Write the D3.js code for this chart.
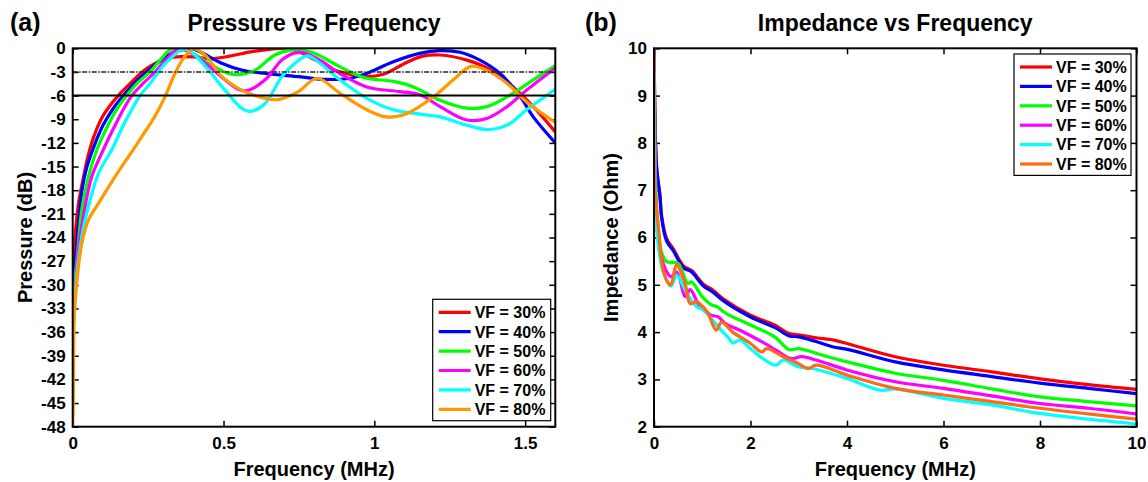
<!DOCTYPE html>
<html>
<head>
<meta charset="utf-8">
<script src="https://cdnjs.cloudflare.com/ajax/libs/d3/7.8.5/d3.min.js"></script>
<style>
body { margin: 0; background: #fff; }
svg text { font-family: "Liberation Sans", Arial, sans-serif; font-weight: bold; fill: #000; }
</style>
</head>
<body>
<svg id="chart" width="1148" height="482"></svg>
<script>
'use strict';
/* global d3 */

var seriesLabels = ['VF = 30%', 'VF = 40%', 'VF = 50%', 'VF = 60%', 'VF = 70%', 'VF = 80%'];
var pressureColors = ['#ff0000', '#0000ff', '#00ff00', '#ff00ff', '#00ffff', '#ff9900'];
var impedanceColors = ['#ff0000', '#0000ff', '#00ff00', '#ff00ff', '#00ffff', '#ff6a13'];

var pressureTicksY = [0, -3, -6, -9, -12, -15, -18, -21, -24, -27, -30, -33, -36, -39, -42, -45, -48];
var pressureTicksX = [0, 0.5, 1, 1.5];
var impedanceTicksY = [2, 3, 4, 5, 6, 7, 8, 9, 10];
var impedanceTicksX = [0, 2, 4, 6, 8, 10];
var pressureRefLines = [-3, -6];

// pressure (dB) vs frequency (MHz)
var pressure30 = [[0, -30], [0.005, -26], [0.01, -23], [0.02, -19.5], [0.035, -16.5], [0.05, -13.8], [0.07, -11.2],
    [0.1, -8.6], [0.125, -7.2], [0.151, -6], [0.2, -4.1], [0.23, -3], [0.26, -2.2], [0.295, -1.5], [0.33, -1.15],
    [0.36, -1.05], [0.4, -1.1], [0.46, -1.3], [0.52, -1.0], [0.59, -0.45], [0.66, -0.1], [0.72, 0], [0.754, -0.5],
    [0.81, -1.6], [0.864, -2.7], [0.92, -3.3], [0.975, -3.6], [1.03, -3.3], [1.107, -1.8], [1.16, -1.0],
    [1.218, -0.85], [1.307, -1.5], [1.373, -2.5], [1.46, -4.9], [1.527, -7.4], [1.6, -10.6]];
var pressure40 = [[0, -32], [0.005, -29], [0.01, -26.5], [0.021, -21.4], [0.033, -17.5], [0.046, -15.2], [0.07, -12.5],
    [0.1, -9.8], [0.135, -7.6], [0.168, -6], [0.2, -4.6], [0.245, -3], [0.29, -1.6], [0.33, -0.6], [0.37, -0.1],
    [0.395, 0], [0.43, -0.6], [0.494, -1.9], [0.56, -2.76], [0.64, -3.2], [0.75, -3.6], [0.842, -3.95], [0.92, -3.8],
    [0.974, -3.2], [1.063, -1.7], [1.15, -0.64], [1.218, -0.3], [1.284, -0.5], [1.35, -1.5], [1.417, -3.2],
    [1.483, -6.1], [1.527, -8.7], [1.6, -12]];
var pressure50 = [[0, -33], [0.005, -30.5], [0.017, -25.6], [0.03, -20.5], [0.052, -16.3], [0.08, -12.9], [0.11, -10.3],
    [0.145, -7.8], [0.179, -6], [0.215, -4.4], [0.256, -3], [0.29, -1.5], [0.328, -0.1], [0.37, -0.2], [0.41, -0.9],
    [0.45, -1.9], [0.516, -3.2], [0.549, -3.35], [0.604, -2.8], [0.67, -0.85], [0.726, -0.2], [0.754, -0.2],
    [0.8, -0.6], [0.864, -1.9], [0.92, -3], [0.975, -3.8], [1.063, -4.2], [1.13, -4.9], [1.218, -6.6], [1.307, -7.6],
    [1.373, -7.4], [1.46, -5.7], [1.527, -4], [1.6, -2.2]];
var pressure60 = [[0, -34], [0.008, -30.7], [0.019, -25.6], [0.035, -21.4], [0.063, -16.3], [0.101, -12.9], [0.14, -9.8],
    [0.17, -7.6], [0.196, -6], [0.235, -4.4], [0.273, -3], [0.31, -1.4], [0.35, -0.1], [0.38, -0.3], [0.44, -1.9],
    [0.505, -4], [0.549, -5.2], [0.575, -5.4], [0.638, -4], [0.693, -1.5], [0.74, -0.55], [0.77, -0.6], [0.82, -1.5],
    [0.886, -3.2], [0.975, -4.9], [1.085, -5.5], [1.152, -5.9], [1.218, -7.4], [1.307, -9.1], [1.373, -8.9],
    [1.44, -7.4], [1.505, -5.3], [1.6, -2.5]];
var pressure70 = [[0, -36], [0.005, -34], [0.013, -29], [0.03, -23.9], [0.052, -20.1], [0.085, -15.9], [0.129, -12.9],
    [0.17, -9.6], [0.2, -7.5], [0.223, -6], [0.26, -4.3], [0.3, -2.2], [0.335, -0.9], [0.365, -0.1], [0.39, -0.4],
    [0.44, -2.3], [0.505, -5.3], [0.56, -7.6], [0.588, -8], [0.638, -7], [0.693, -3.6], [0.737, -1.9], [0.778, -0.95],
    [0.82, -1.9], [0.886, -4], [0.975, -6.35], [1.063, -7.8], [1.152, -8.35], [1.218, -8.7], [1.307, -9.75],
    [1.373, -10.3], [1.44, -9.75], [1.505, -7.8], [1.6, -5.2]];
var pressure80 = [[0, -48], [0.002, -45], [0.005, -34.1], [0.013, -29.9], [0.03, -24.8], [0.052, -21.8], [0.085, -19.7],
    [0.14, -16.3], [0.2, -12.9], [0.229, -11.2], [0.27, -8.8], [0.306, -6.15], [0.339, -3.2], [0.365, -1.4], [0.4, -0.05],
    [0.44, -0.9], [0.495, -3.6], [0.56, -5.3], [0.638, -6.35], [0.682, -6.5], [0.748, -5.5], [0.81, -3.8], [0.886, -5.7],
    [0.975, -7.8], [1.04, -8.7], [1.107, -8.3], [1.196, -6.15], [1.262, -4], [1.32, -2.3], [1.373, -2.8], [1.44, -4.45],
    [1.505, -6.8], [1.6, -9.4]];

// impedance (Ohm) vs frequency (MHz)
var impedance30 = [[0, 10.2], [0.02, 8.6], [0.055, 7.5], [0.124, 6.9], [0.16, 6.45], [0.26, 5.98], [0.4, 5.76], [0.61, 5.4],
    [0.78, 5.3], [1.02, 5.02], [1.23, 4.88], [1.44, 4.7], [2, 4.36], [2.5, 4.15], [2.8, 3.97], [3, 3.94], [3.36, 3.88],
    [3.73, 3.83], [4.03, 3.75], [5, 3.48], [6, 3.3], [7, 3.16], [8, 3.01], [9, 2.89], [10, 2.79]];
var impedance40 = [[0, 10.2], [0.02, 8.5], [0.055, 7.45], [0.124, 6.85], [0.16, 6.4], [0.26, 5.93], [0.4, 5.72], [0.61, 5.36],
    [0.78, 5.27], [1.02, 4.98], [1.23, 4.84], [1.44, 4.66], [2, 4.32], [2.5, 4.1], [2.8, 3.92], [3, 3.9], [3.36, 3.8],
    [3.7, 3.69], [4.03, 3.63], [5, 3.37], [6, 3.2], [7, 3.06], [8, 2.92], [9, 2.81], [10, 2.7]];
var impedance50 = [[0, 10], [0.02, 8], [0.055, 6.65], [0.16, 5.67], [0.26, 5.49], [0.5, 5.45], [0.7, 5.03], [0.78, 5.06],
    [1, 4.75], [1.2, 4.57], [1.3, 4.54], [1.5, 4.39], [2, 4.15], [2.5, 3.9], [2.8, 3.63], [3, 3.65], [3.5, 3.51],
    [4, 3.37], [5, 3.13], [6, 2.98], [7, 2.8], [8, 2.63], [9, 2.53], [10, 2.44]];
var impedance60 = [[0, 10], [0.02, 7.6], [0.055, 6.3], [0.15, 5.6], [0.25, 5.3], [0.35, 5.17], [0.47, 5.27], [0.65, 4.75],
    [0.75, 4.9], [0.95, 4.54], [1.18, 4.36], [1.33, 4.32], [1.48, 4.18], [1.78, 4.04], [2.23, 3.8], [2.53, 3.62],
    [2.83, 3.44], [3.06, 3.48], [3.36, 3.41], [4, 3.2], [5, 2.95], [6, 2.81], [7, 2.65], [8, 2.49], [9, 2.39], [10, 2.27]];
var impedance70 = [[0, 9.5], [0.02, 7.2], [0.055, 6.2], [0.12, 5.6], [0.2, 5.25], [0.35, 4.97], [0.47, 5.2], [0.65, 4.88],
    [0.88, 4.54], [1.03, 4.46], [1.33, 4.11], [1.55, 3.87], [1.63, 3.77], [1.78, 3.83], [2, 3.65], [2.3, 3.41],
    [2.53, 3.3], [2.68, 3.41], [2.98, 3.27], [3.28, 3.23], [4, 3.02], [4.7, 2.77], [5, 2.8], [6, 2.6], [7, 2.46],
    [8, 2.28], [9, 2.16], [10, 2.06]];
var impedance80 = [[0, 9.8], [0.02, 7], [0.09, 6.23], [0.19, 5.31], [0.3, 5.03], [0.35, 5], [0.47, 5.42], [0.65, 5],
    [0.75, 4.6], [0.88, 4.64], [1.1, 4.43], [1.29, 4.04], [1.4, 4.21], [1.63, 4], [2, 3.76], [2.23, 3.58], [2.34, 3.65],
    [2.68, 3.48], [2.98, 3.34], [3.2, 3.23], [3.36, 3.3], [4, 3.09], [5, 2.81], [6, 2.67], [7, 2.53], [8, 2.39],
    [9, 2.27], [10, 2.16]];

var svg = d3.select('#chart');
var plotTop = 48.3;
var plotBottom = 426.7;

function drawPanel(p) {
    var x = d3.scaleLinear().domain(p.xDomain).range([p.left, p.right]);
    var y = d3.scaleLinear().domain(p.yDomain).range([plotBottom, plotTop]);
    var g = svg.append('g');

    g.append('clipPath').attr('id', p.id + '-clip')
        .append('rect')
        .attr('x', p.left).attr('y', plotTop)
        .attr('width', p.right - p.left).attr('height', plotBottom - plotTop);

    var fmt = function(d) { return String(d); };
    var noLabel = function() { return ''; };

    g.append('g').attr('class', 'axis').attr('transform', 'translate(' + p.left + ',0)')
        .call(d3.axisLeft(y).tickValues(p.yTicks).tickFormat(fmt).tickSizeInner(-6).tickSizeOuter(0).tickPadding(7));
    g.append('g').attr('class', 'axis').attr('transform', 'translate(' + p.right + ',0)')
        .call(d3.axisRight(y).tickValues(p.yTicks).tickFormat(noLabel).tickSizeInner(-6).tickSizeOuter(0));
    g.append('g').attr('class', 'axis').attr('transform', 'translate(0,' + plotBottom + ')')
        .call(d3.axisBottom(x).tickValues(p.xTicks).tickFormat(fmt).tickSizeInner(-6).tickSizeOuter(0).tickPadding(10));
    g.append('g').attr('class', 'axis').attr('transform', 'translate(0,' + plotTop + ')')
        .call(d3.axisTop(x).tickValues(p.xTicks).tickFormat(noLabel).tickSizeInner(-6).tickSizeOuter(0));

    g.selectAll('.axis .domain').remove();
    g.selectAll('.axis line').attr('stroke', '#000').attr('stroke-width', 1.5);
    g.selectAll('.axis text').attr('font-size', 17).attr('font-family', null);

    var line = d3.line()
        .x(function(d) { return x(d[0]); })
        .y(function(d) { return y(d[1]); })
        .curve(d3.curveCatmullRom.alpha(0.5));

    g.append('g').attr('clip-path', 'url(#' + p.id + '-clip)')
        .selectAll('path')
        .data(p.series)
        .enter()
        .append('path')
            .attr('d', line)
            .attr('fill', 'none')
            .attr('stroke', function(d, i) { return p.colors[i]; })
            .attr('stroke-width', 3.2)
            .attr('stroke-linejoin', 'round');

    (p.refLines || []).forEach(function(v, i) {
        g.append('line')
            .attr('x1', p.left).attr('x2', p.right)
            .attr('y1', y(v)).attr('y2', y(v))
            .attr('stroke', i === 0 ? '#222' : '#000')
            .attr('stroke-width', i === 0 ? 1.6 : 2)
            .attr('stroke-dasharray', i === 0 ? '5,1.5,1.5,1.5' : null);
    });

    g.append('rect')
        .attr('x', p.left).attr('y', plotTop)
        .attr('width', p.right - p.left).attr('height', plotBottom - plotTop)
        .attr('fill', 'none').attr('stroke', '#000').attr('stroke-width', 2);

    // legend
    var lg = g.append('g');
    lg.append('rect')
        .attr('x', p.legend.x).attr('y', p.legend.y)
        .attr('width', p.legend.w).attr('height', p.legend.h)
        .attr('fill', '#fff').attr('stroke', '#000').attr('stroke-width', 1.2);
    seriesLabels.forEach(function(label, i) {
        var cy = p.legend.y + 13 + i * 19.4;
        lg.append('line')
            .attr('x1', p.legend.x + 6).attr('x2', p.legend.x + 38)
            .attr('y1', cy).attr('y2', cy)
            .attr('stroke', p.colors[i]).attr('stroke-width', 3.2);
        lg.append('text')
            .attr('x', p.legend.x + 42).attr('y', cy + 5.8)
            .attr('font-size', 16)
            .text(label);
    });

    // titles
    var cx = (p.left + p.right) / 2;
    g.append('text').attr('x', cx).attr('y', 31).attr('text-anchor', 'middle')
        .attr('font-size', 23).text(p.title);
    g.append('text').attr('x', p.panelX).attr('y', 31).attr('font-size', 25).text(p.panel);
    g.append('text').attr('x', cx).attr('y', 476).attr('text-anchor', 'middle')
        .attr('font-size', 20).text('Frequency (MHz)');
    g.append('text')
        .attr('transform', 'translate(' + p.yLabelX + ',' + ((plotTop + plotBottom) / 2) + ') rotate(-90)')
        .attr('text-anchor', 'middle')
        .attr('font-size', 20).text(p.yLabel);
}

drawPanel({
    id: 'pressure',
    left: 72.7, right: 555.3,
    xDomain: [0, 1.6], yDomain: [-48, 0],
    xTicks: pressureTicksX, yTicks: pressureTicksY,
    series: [pressure30, pressure40, pressure50, pressure60, pressure70, pressure80],
    colors: pressureColors,
    refLines: pressureRefLines,
    legend: {x: 432.7, y: 299.3, w: 118, h: 121.4},
    title: 'Pressure vs Frequency', panel: '(a)', panelX: 10,
    yLabel: 'Pressure (dB)', yLabelX: 32
});

drawPanel({
    id: 'impedance',
    left: 654, right: 1136.5,
    xDomain: [0, 10], yDomain: [2, 10],
    xTicks: impedanceTicksX, yTicks: impedanceTicksY,
    series: [impedance30, impedance40, impedance50, impedance60, impedance70, impedance80],
    colors: impedanceColors,
    legend: {x: 1014, y: 54, w: 117, h: 121.4},
    title: 'Impedance vs Frequency', panel: '(b)', panelX: 585,
    yLabel: 'Impedance (Ohm)', yLabelX: 618
});
</script>
</body>
</html>
